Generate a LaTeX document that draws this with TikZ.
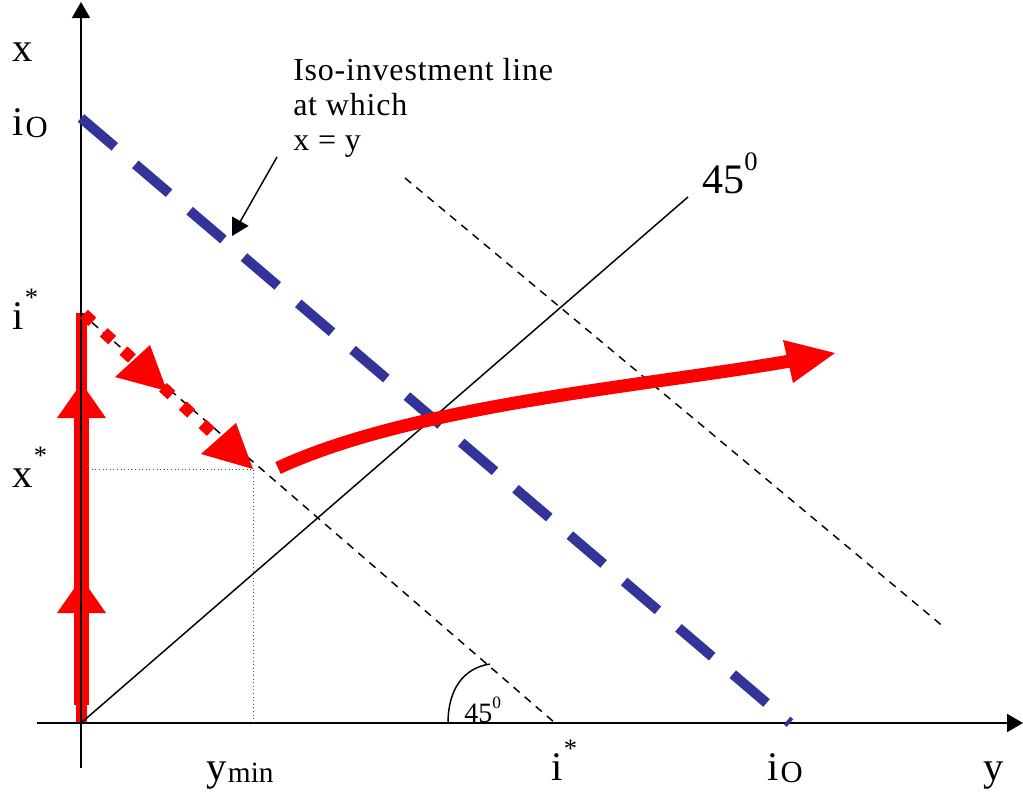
\documentclass[tikz,border=0pt]{standalone}
\usepackage{fontspec}
\setmainfont{Liberation Serif}
\usetikzlibrary{arrows.meta}
\definecolor{isoblue}{RGB}{51,51,153}
\newcommand{\myfs}[1]{\fontsize{#1}{#1}\selectfont}
\newcommand{\supstar}{\kern1pt\raisebox{17pt}{\myfs{20pt}*}}
\newcommand{\subO}{\kern1.5pt\raisebox{-1.5pt}{\myfs{23pt}O}}
\begin{document}
\begin{tikzpicture}[x=0.75pt,y=-0.75pt,
  lab/.style={anchor=base west, inner sep=0pt, font=\myfs{30.5pt}},
  txt/.style={anchor=base west, inner sep=0pt, font=\myfs{24pt}\addfontfeature{LetterSpace=2.5}},
  axisline/.style={line width=1.2pt, -{Triangle[length=12pt,width=13.5pt]}},
  thindash/.style={line width=1.1pt, dash pattern=on 6pt off 5pt},
  guide/.style={line width=0.7pt, dotted, black!70},
  isoline/.style={line width=7.5pt, isoblue, dash pattern=on 33.3pt off 20.25pt},
  redpath/.style={red, line width=8.25pt},
  redhead/.style={fill=red, draw=none}]

\useasboundingbox (0,0) rectangle (1023,796);

% coordinates
\coordinate (O) at (81,723);
\coordinate (Xtop) at (81,2);
\coordinate (Xbot) at (81,768);
\coordinate (Yleft) at (37,723);
\coordinate (Yright) at (1023,723);
\coordinate (IoX) at (81,118);
\coordinate (IoY) at (790,723);
\coordinate (IsX) at (81,313);
\coordinate (IsY) at (555,723);
\coordinate (D1) at (405,178);
\coordinate (D2) at (945,628);
\coordinate (F) at (688,197);
\coordinate (E) at (253,469);
\coordinate (Ex) at (81,469);
\coordinate (Ey) at (253,723);

% red vertical path with arrows
\draw[redpath] (81.5,723) -- (81.5,313);
\draw[red, line width=11.25pt] (81.5,705) -- (81.5,418);
\fill[redhead] (81.5,578) -- (57,613) -- (106,613) -- cycle;
\fill[redhead] (81.5,383) -- (57,418) -- (106,418) -- cycle;

% axes
\draw[axisline] (Xbot) -- (Xtop);
\draw[axisline, line width=1.5pt] (Yleft) -- (Yright);

% 45 degree line
\draw[line width=1.1pt] (O) -- (F);

% dashed iso lines
\draw[thindash] (IsX) -- (IsY);
\draw[thindash] (D1) -- (D2);

% guides
\draw[guide] (Ex) -- (E) -- (Ey);

% angle arc
\draw[line width=1.1pt] (448,723) .. controls (448,690) and (463,668) .. (490,664);

% blue iso-investment line
\draw[isoline] (IoX) -- (IoY);

% red dotted diagonal with heads
\draw[red, line width=8.6pt, dash pattern=on 8.6pt off 11.6pt] (84,314) -- (236,455);
\fill[redhead] (167,391) -- (150,345) -- (115,377) -- cycle;
\fill[redhead] (E) -- (236,423) -- (201,454) -- cycle;

% red curve
\draw[red, line width=9.75pt] (278,468) .. controls (413,405) and (647,386) .. (790,361);
\fill[redhead] (835,353) -- (783,340) -- (793,383) -- cycle;

% labels
\node[lab] (xl) at (12,61) {x};
\node[lab] (iol) at (12,135) {i\subO};
\node[lab] (isl) at (12,329) {i\supstar};
\node[lab] (xsl) at (12,487) {x\supstar};
\node[lab] (ymin) at (206,780) {y\kern1pt\raisebox{-1.5pt}{\myfs{22pt}min}};
\node[lab] (isb) at (551,780) {i\supstar};
\node[lab] (iob) at (767,780) {i\subO};
\node[lab] (yl) at (983,780) {y};
\node[lab, font=\myfs{31.5pt}] (fortyfive) at (702,193) {45\raisebox{17pt}{\myfs{20pt}0}};
\node[lab, font=\myfs{21pt}] (fortyfivesmall) at (464,722) {45\raisebox{10pt}{\myfs{13pt}0}};

\node[txt] (iso1) at (293,80) {Iso-investment line};
\node[txt] (iso2) at (293,115) {at which};
\node[txt] (iso3) at (293,150) {x = y};

\coordinate (ptrS) at (277,157);
\coordinate (ptrE) at (232,236);
\draw[line width=1.1pt, -{Triangle[length=12.75pt,width=14pt]}] (ptrS) -- (ptrE);

\end{tikzpicture}
\end{document}
